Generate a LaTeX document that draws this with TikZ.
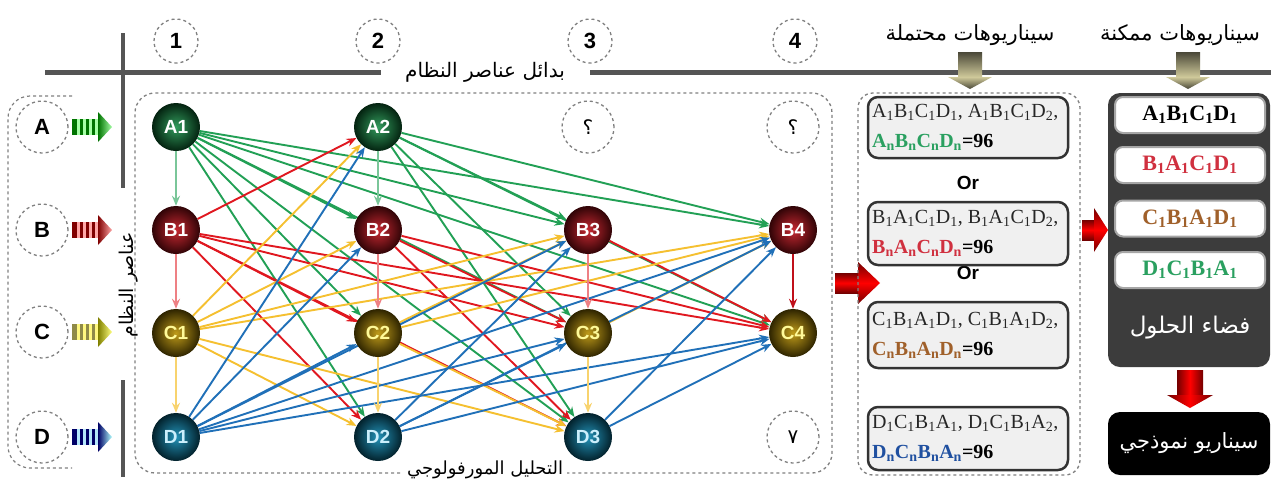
\documentclass[tikz,border=0pt]{standalone}
\usepackage{fontspec}
\setmainfont{Liberation Sans}
\newfontfamily\serifbox{Liberation Serif}
\newfontfamily\arabicfont[Script=Arabic]{DejaVu Sans}
\TeXXeTstate=1
\usetikzlibrary{arrows.meta,backgrounds}
\newcommand{\artxt}[1]{{\arabicfont\beginR #1\endR}}
\newcommand{\sbs}[1]{\textsubscript{#1}}
\definecolor{gA}{HTML}{0E8A40}
\definecolor{rB}{HTML}{C0101A}
\definecolor{yC}{HTML}{B89000}
\definecolor{bD}{HTML}{0A86B0}
\definecolor{eA}{HTML}{22A055}
\definecolor{eB}{HTML}{E01820}
\definecolor{eC}{HTML}{F5C030}
\definecolor{eD}{HTML}{2070B8}
\definecolor{linegray}{HTML}{555555}
\definecolor{darkbox}{HTML}{3C3C3C}
\definecolor{txtR}{HTML}{D0303F}
\definecolor{txtC}{HTML}{A0602A}
\definecolor{txtG}{HTML}{2AA060}
\definecolor{txtD}{HTML}{2050A0}
\definecolor{khakiD}{HTML}{4A4838}
\definecolor{khakiL}{HTML}{CFC99A}
\tikzset{
  ballnode/.style={circle, minimum size=48pt, inner sep=0pt, font=\bfseries\fontsize{19}{19}\selectfont},
  nA/.style={ballnode, inner color=gA!85!white, outer color=gA!25!black, text=white},
  nB/.style={ballnode, inner color=rB!90!white, outer color=rB!25!black, text=white},
  nC/.style={ballnode, inner color=yC!90!white, outer color=yC!25!black, text=yellow!40},
  nD/.style={ballnode, inner color=bD!90!white, outer color=bD!25!black, text=cyan!20},
  numcirc/.style={circle, draw=gray, dashed, line width=1.3pt, minimum size=44pt, inner sep=0pt, font=\bfseries\fontsize{22}{22}\selectfont},
  letcirc/.style={circle, draw=gray, dashed, line width=1.3pt, minimum size=52pt, inner sep=0pt, font=\bfseries\fontsize{22}{22}\selectfont},
  qcirc/.style={circle, draw=gray, dashed, line width=1.3pt, minimum size=52pt, inner sep=0pt, font=\fontsize{20}{20}\selectfont},
  edge/.style={line width=1.9pt, -{Stealth[length=10pt,width=8pt]}},
  scbox/.style={draw=gray!40!black, line width=2.5pt, fill=gray!12, rounded corners=10pt, minimum width=200pt, inner sep=0pt},
  wbox/.style={draw=gray!70, line width=2pt, fill=white, rounded corners=8pt, minimum width=150pt, minimum height=36pt, inner sep=0pt, font=\serifbox\bfseries\fontsize{22}{22}\selectfont},
  ln1/.style={anchor=west, inner sep=0pt, font=\serifbox\fontsize{20}{20}\selectfont, text=gray!30!black},
  ln2/.style={anchor=west, inner sep=0pt, font=\serifbox\bfseries\fontsize{20}{20}\selectfont},
  artext/.style={inner sep=1pt, font=\fontsize{21}{21}\selectfont},
  redshade/.style={top color=red!45!black, bottom color=red!45!black, middle color=red},
  pics/striparrow/.style 2 args={code={
    \fill[#1] (0,-8) rectangle (26,8);
    \foreach \xx in {5,11,17,23} {\fill[#2] (\xx,-8) rectangle (\xx+2.5,8);}
    \shade[left color=#1, right color=#2] (26,-15) -- (40,0) -- (26,15) -- cycle;
  }},
  pics/tanarrow/.style={code={
    \shade[top color=khakiD, bottom color=khakiL] (-12,0) rectangle (12,25);
    \shade[top color=khakiL, bottom color=khakiD] (-22,25) -- (0,37) -- (22,25) -- cycle;
  }}
}
\begin{document}
\begin{tikzpicture}[x=1pt,y=-1pt]
\useasboundingbox (0,0) rectangle (1271,483);

% axes lines
\draw[line width=5pt, linegray] (45,72) -- (381,72);
\draw[line width=5pt, linegray] (590,72) -- (1271,72);
\draw[line width=4pt, linegray] (123,33) -- (123,188);
\draw[line width=4pt, linegray] (123,380) -- (123,477);
\node[artext, font=\fontsize{20}{20}\selectfont] (toptxt) at (485,72) {\artxt{بدائل عناصر النظام}};
\node[artext, rotate=90, font=\fontsize{19}{19}\selectfont] (sidetxt) at (129,285) {\artxt{عناصر النظام}};

% top numbers
\node[numcirc] (n1) at (176,41) {1};
\node[numcirc] (n2) at (378,41) {2};
\node[numcirc] (n3) at (590,41) {3};
\node[numcirc] (n4) at (795,41) {4};

% left letters
\draw[dashed, gray, line width=1.2pt, rounded corners=22pt] (72,96) -- (8,96) -- (8,468) -- (72,468);
\node[letcirc] (LA) at (42,127) {A};
\node[letcirc] (LB) at (42,230) {B};
\node[letcirc] (LC) at (42,332) {C};
\node[letcirc] (LD) at (42,437) {D};
\pic at (72,127) {striparrow={green!45!black}{green!35!white}};
\pic at (72,230) {striparrow={red!50!black}{red!35!white}};
\pic at (72,332) {striparrow={yellow!50!black}{yellow!50!white}};
\pic at (72,437) {striparrow={blue!40!black}{cyan!30!white}};

% main dashed box
\draw[dashed, gray, line width=1.3pt, rounded corners=20pt] (400,473) -- (135,473) -- (135,93) -- (832,93) -- (832,473) -- (567,473);
\node[artext, font=\fontsize{18}{18}\selectfont] (bottxt) at (485,470) {\artxt{التحليل المورفولوجي}};

% question circles
\node[qcirc] (q1) at (588,127) {\artxt{؟}};
\node[qcirc] (q2) at (793,127) {\artxt{؟}};
\node[qcirc] (q3) at (793,437) {\artxt{٧}};

% nodes
\node[nA] (A1) at (176,127) {A1};
\node[nA] (A2) at (378,127) {A2};
\node[nB] (B1) at (176,230) {B1};
\node[nB] (B2) at (378,230) {B2};
\node[nB] (B3) at (588,230) {B3};
\node[nB] (B4) at (793,230) {B4};
\node[nC] (C1) at (176,333) {C1};
\node[nC] (C2) at (378,333) {C2};
\node[nC] (C3) at (588,333) {C3};
\node[nC] (C4) at (793,333) {C4};
\node[nD] (D1) at (176,437) {D1};
\node[nD] (D2) at (378,437) {D2};
\node[nD] (D3) at (588,437) {D3};

\begin{pgfonlayer}{background}
\fill[white] (0,0) rectangle (1271,483);
\foreach \s/\t in {A1/B2,A1/C2,A1/D2,A1/B3,A1/C3,A1/D3,A1/B4,A1/C4,A2/B3,A2/C3,A2/D3,A2/B4,A2/C4}
  {\draw[edge, eA] (\s) -- (\t);}
\foreach \s/\t in {B1/A2,B1/C2,B1/D2,B1/C3,B1/D3,B1/C4,B2/C3,B2/D3,B2/C4,B3/C4}
  {\draw[edge, eB] (\s) -- (\t);}
\foreach \s/\t in {C1/A2,C1/B2,C1/D2,C1/B3,C1/D3,C1/B4,C2/B3,C2/D3,C2/B4,C3/B4}
  {\draw[edge, eC] (\s) -- (\t);}
\foreach \s/\t in {D1/A2,D1/B2,D1/C2,D1/B3,D1/C3,D1/B4,D1/C4,D2/B3,D2/C3,D2/B4,D2/C4,D3/B4,D3/C4}
  {\draw[edge, eD] (\s) -- (\t);}
\foreach \s/\t in {A1/B1,A2/B2} {\draw[edge, eA!60] (\s) -- (\t);}
\foreach \s/\t in {B1/C1,B2/C2,B3/C3} {\draw[edge, eB!55] (\s) -- (\t);}
\draw[edge, rB] (B4) -- (C4);
\foreach \s/\t in {C1/D1,C2/D2,C3/D3} {\draw[edge, eC!70] (\s) -- (\t);}
\end{pgfonlayer}

% arrow main -> scenarios
\shade[redshade] (835,273) rectangle (858,293);
\shade[redshade] (858,262) -- (880,283) -- (858,304) -- cycle;

% right scenario area
\node[artext] (hdr1) at (970,35) {\artxt{سيناريوهات محتملة}};
\node[artext] (hdr2) at (1180,35) {\artxt{سيناريوهات ممكنة}};
\pic at (970,52) {tanarrow};
\pic at (1188,52) {tanarrow};
\draw[dashed, gray, line width=1.3pt, rounded corners=15pt] (858,93) rectangle (1080,475);

\node[font=\bfseries\fontsize{19}{19}\selectfont] (or1) at (968,183) {Or};
\node[font=\bfseries\fontsize{19}{19}\selectfont] (or2) at (968,273) {Or};

\node[scbox, minimum height=61pt] (s1) at (968,127.5) {};
\node[ln1] (s1a) at (872,112) {A\sbs{1}B\sbs{1}C\sbs{1}D\sbs{1}, A\sbs{1}B\sbs{1}C\sbs{1}D\sbs{2},};
\node[ln2] (s1b) at (872,142) {\textcolor{txtG}{A\sbs{n}B\sbs{n}C\sbs{n}D\sbs{n}}=96};

\node[scbox, minimum height=63pt] (s2) at (968,233.5) {};
\node[ln1] (s2a) at (872,218) {B\sbs{1}A\sbs{1}C\sbs{1}D\sbs{1}, B\sbs{1}A\sbs{1}C\sbs{1}D\sbs{2},};
\node[ln2] (s2b) at (872,248) {\textcolor{txtR}{B\sbs{n}A\sbs{n}C\sbs{n}D\sbs{n}}=96};

\node[scbox, minimum height=66pt] (s3) at (968,335) {};
\node[ln1] (s3a) at (872,320) {C\sbs{1}B\sbs{1}A\sbs{1}D\sbs{1}, C\sbs{1}B\sbs{1}A\sbs{1}D\sbs{2},};
\node[ln2] (s3b) at (872,350) {\textcolor{txtC}{C\sbs{n}B\sbs{n}A\sbs{n}D\sbs{n}}=96};

\node[scbox, minimum height=63pt] (s4) at (968,438.5) {};
\node[ln1] (s4a) at (872,423) {D\sbs{1}C\sbs{1}B\sbs{1}A\sbs{1}, D\sbs{1}C\sbs{1}B\sbs{1}A\sbs{2},};
\node[ln2] (s4b) at (872,453) {\textcolor{txtD}{D\sbs{n}C\sbs{n}B\sbs{n}A\sbs{n}}=96};

% arrow to solution space
\shade[redshade] (1082,220) rectangle (1094,240);
\shade[redshade] (1094,208) -- (1108,230) -- (1094,252) -- cycle;

% solution space
\node[fill=darkbox, rounded corners=12pt, minimum width=162pt, minimum height=274pt, inner sep=0pt] (space) at (1189,230) {};
\node[wbox] (w1) at (1190,115) {A\sbs{1}B\sbs{1}C\sbs{1}D\sbs{1}};
\node[wbox, text=txtR] (w2) at (1190,165) {B\sbs{1}A\sbs{1}C\sbs{1}D\sbs{1}};
\node[wbox, text=txtC] (w3) at (1190,218.5) {C\sbs{1}B\sbs{1}A\sbs{1}D\sbs{1}};
\node[wbox, text=txtG] (w4) at (1190,270) {D\sbs{1}C\sbs{1}B\sbs{1}A\sbs{1}};
\node[artext, text=white, font=\fontsize{23}{23}\selectfont] (spacetxt) at (1190,328) {\artxt{فضاء الحلول}};

\shade[left color=red!45!black, right color=red!45!black, middle color=red] (1177,370) rectangle (1203,395);
\shade[left color=red!45!black, right color=red!45!black, middle color=red] (1167,395) -- (1190,408) -- (1213,395) -- cycle;

\node[fill=black, rounded corners=12pt, minimum width=162pt, minimum height=63pt, inner sep=0pt] (typ) at (1189,443.5) {};
\node[artext, text=white, font=\fontsize{21}{21}\selectfont] (typtxt) at (1189,443.5) {\artxt{سيناريو نموذجي}};
\end{tikzpicture}
\end{document}
